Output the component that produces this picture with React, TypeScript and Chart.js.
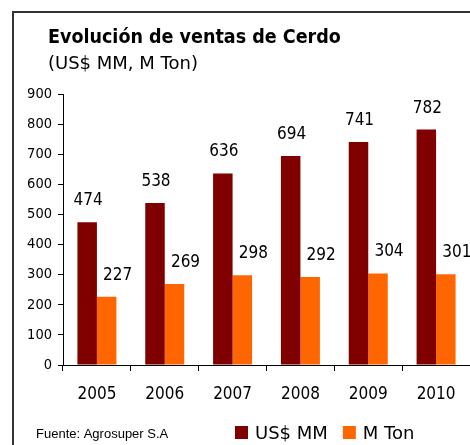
import React, { useEffect, useRef } from "react";
import { Chart, registerables } from "chart.js";

Chart.register(...registerables);

const years = ["2005", "2006", "2007", "2008", "2009", "2010"];
const usdMM = [474, 538, 636, 694, 741, 782];
const mTon = [227, 269, 298, 292, 304, 301];
const seriesLabels = ["US$ MM", "M Ton"];
const seriesColors = ["#800000", "#FF6600"];
const titleText = "Evolución de ventas de Cerdo";
const subtitleText = "(US$ MM, M Ton)";
const sourceText = "Fuente: Agrosuper S.A";
const yMax = 900;
const yStep = 100;

const FONT = '"DejaVu Sans Condensed", "DejaVu Sans", sans-serif';
const FONT_WIDE = '"DejaVu Sans", sans-serif';
const W = 470;
const H = 445;

const valueLabels = {
  id: "valueLabels",
  afterDatasetsDraw(chart: any) {
    const ctx = chart.ctx;
    ctx.save();
    ctx.font = `17px ${FONT}`;
    ctx.fillStyle = "#000";
    ctx.textAlign = "center";
    ctx.textBaseline = "alphabetic";
    chart.data.datasets.forEach((ds: any, di: number) => {
      const meta = chart.getDatasetMeta(di);
      const dx = di === 0 ? 1 : 11;
      meta.data.forEach((bar: any, i: number) => {
        ctx.fillText(String(ds.data[i]), bar.x + dx, bar.y - 17);
      });
    });
    ctx.restore();
  },
};

const decor = {
  id: "decor",
  afterDraw(chart: any) {
    const ctx = chart.ctx;
    ctx.save();
    // frame
    ctx.strokeStyle = "#333";
    ctx.lineWidth = 2;
    ctx.beginPath();
    ctx.moveTo(13, H + 2);
    ctx.lineTo(13, 12);
    ctx.lineTo(W + 20, 12);
    ctx.stroke();
    // titles
    ctx.fillStyle = "#000";
    ctx.textAlign = "left";
    ctx.textBaseline = "alphabetic";
    ctx.font = `bold 19.5px ${FONT}`;
    ctx.fillText(titleText, 48, 43);
    ctx.font = `18px ${FONT_WIDE}`;
    ctx.fillText(subtitleText, 48, 69);
    // source
    ctx.font = `13px "Liberation Sans", Arial, sans-serif`;
    ctx.fillText(sourceText, 36, 437.5);
    // legend
    let x = 235;
    const y = 426;
    ctx.font = `18px ${FONT_WIDE}`;
    chart.data.datasets.forEach((ds: any) => {
      ctx.fillStyle = ds.backgroundColor;
      ctx.fillRect(x, y, 13, 13);
      ctx.fillStyle = "#000";
      ctx.fillText(ds.label, x + 20, 438.5);
      x += 20 + ctx.measureText(ds.label).width + 15;
    });
    ctx.restore();
  },
};

export default function App() {
  const ref = useRef<HTMLCanvasElement>(null);
  useEffect(() => {
    document.body.style.margin = "0";
    document.body.style.overflow = "hidden";
    document.documentElement.style.overflow = "hidden";
    const chart = new Chart(ref.current as HTMLCanvasElement, {
      type: "bar",
      data: {
        labels: years,
        datasets: [
          { label: seriesLabels[0], data: usdMM, backgroundColor: seriesColors[0], borderWidth: 0 },
          { label: seriesLabels[1], data: mTon, backgroundColor: seriesColors[1], borderWidth: 0 },
        ],
      },
      options: {
        animation: false,
        responsive: false,
        devicePixelRatio: 1,
        layout: { padding: { left: 13, top: 94, right: 0, bottom: 40 } },
        datasets: { bar: { categoryPercentage: 0.575, barPercentage: 1.0 } },
        plugins: { legend: { display: false }, tooltip: { enabled: false }, title: { display: false } },
        scales: {
          x: {
            offset: true,
            grid: { display: true, offset: true, drawOnChartArea: false, tickLength: 6, color: "#000", tickColor: "#000" },
            border: { display: true, color: "#000", width: 1 },
            ticks: { color: "#000", font: { family: FONT, size: 17 }, padding: 13, maxRotation: 0 },
            afterFit: (s: any) => { s.height = 40; },
          },
          y: {
            min: 0,
            max: yMax,
            grid: { display: true, drawOnChartArea: false, tickLength: 5, color: "#000", tickColor: "#000" },
            border: { display: true, color: "#000", width: 1 },
            ticks: { stepSize: yStep, color: "#000", font: { family: FONT, size: 14.5 }, padding: 6 },
            afterFit: (s: any) => { s.width = 50; },
          },
        },
      },
      plugins: [valueLabels, decor],
    });
    return () => chart.destroy();
  }, []);
  return (
    <div style={{ width: W, height: H, overflow: "hidden" }}>
      <canvas ref={ref} width={W} height={H} style={{ display: "block", width: W, height: H }} />
    </div>
  );
}
